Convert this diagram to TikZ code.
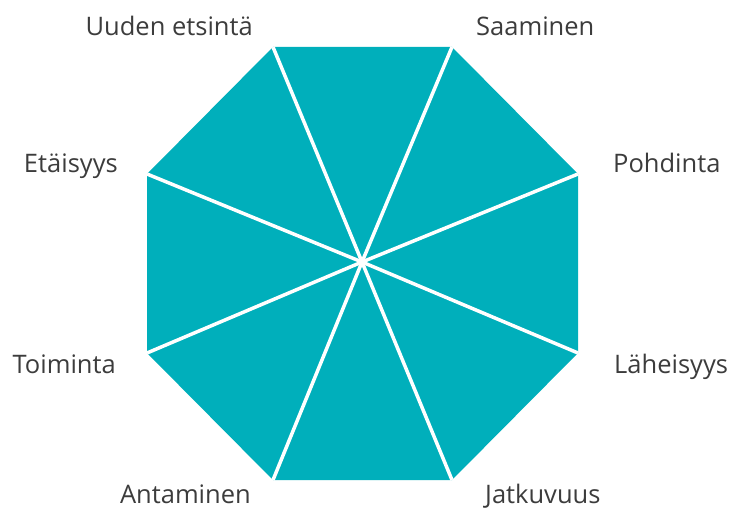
\documentclass[tikz,border=0pt]{standalone}
\usepackage{fontspec}
\setmainfont{Open Sans}
\definecolor{teal}{RGB}{0,175,187}
\definecolor{txt}{RGB}{60,60,60}
\begin{document}
\begin{tikzpicture}[x=1pt,y=-1pt,
  lbl/.style={font=\fontsize{25.5}{30}\selectfont, text=txt, inner sep=0pt},
  spoke/.style={draw=white, line width=3.5pt}]
\useasboundingbox (0,0) rectangle (729,508);
\coordinate (c) at (362,262);
\coordinate (v1) at (273,47);
\coordinate (v2) at (452,47);
\coordinate (v3) at (578,174);
\coordinate (v4) at (578,353);
\coordinate (v5) at (452,480);
\coordinate (v6) at (273,480);
\coordinate (v7) at (147,353);
\coordinate (v8) at (147,174);
\fill[teal] (v1) -- (v2) -- (v3) -- (v4) -- (v5) -- (v6) -- (v7) -- (v8) -- cycle;
\foreach \i in {1,...,8} \draw[spoke] (c) -- (v\i);
\node[lbl, anchor=base east] (uuden) at (253,36) {Uuden etsintä};
\node[lbl, anchor=base west] (saaminen) at (476,36) {Saaminen};
\node[lbl, anchor=base east] (etaisyys) at (118,173) {Etäisyys};
\node[lbl, anchor=base west] (pohdinta) at (613,173) {Pohdinta};
\node[lbl, anchor=base east] (toiminta) at (116,373) {Toiminta};
\node[lbl, anchor=base west] (laheisyys) at (614,373) {Läheisyys};
\node[lbl, anchor=base east] (antaminen) at (251,503) {Antaminen};
\node[lbl, anchor=base west] (jatkuvuus) at (485,503) {Jatkuvuus};
\end{tikzpicture}
\end{document}
